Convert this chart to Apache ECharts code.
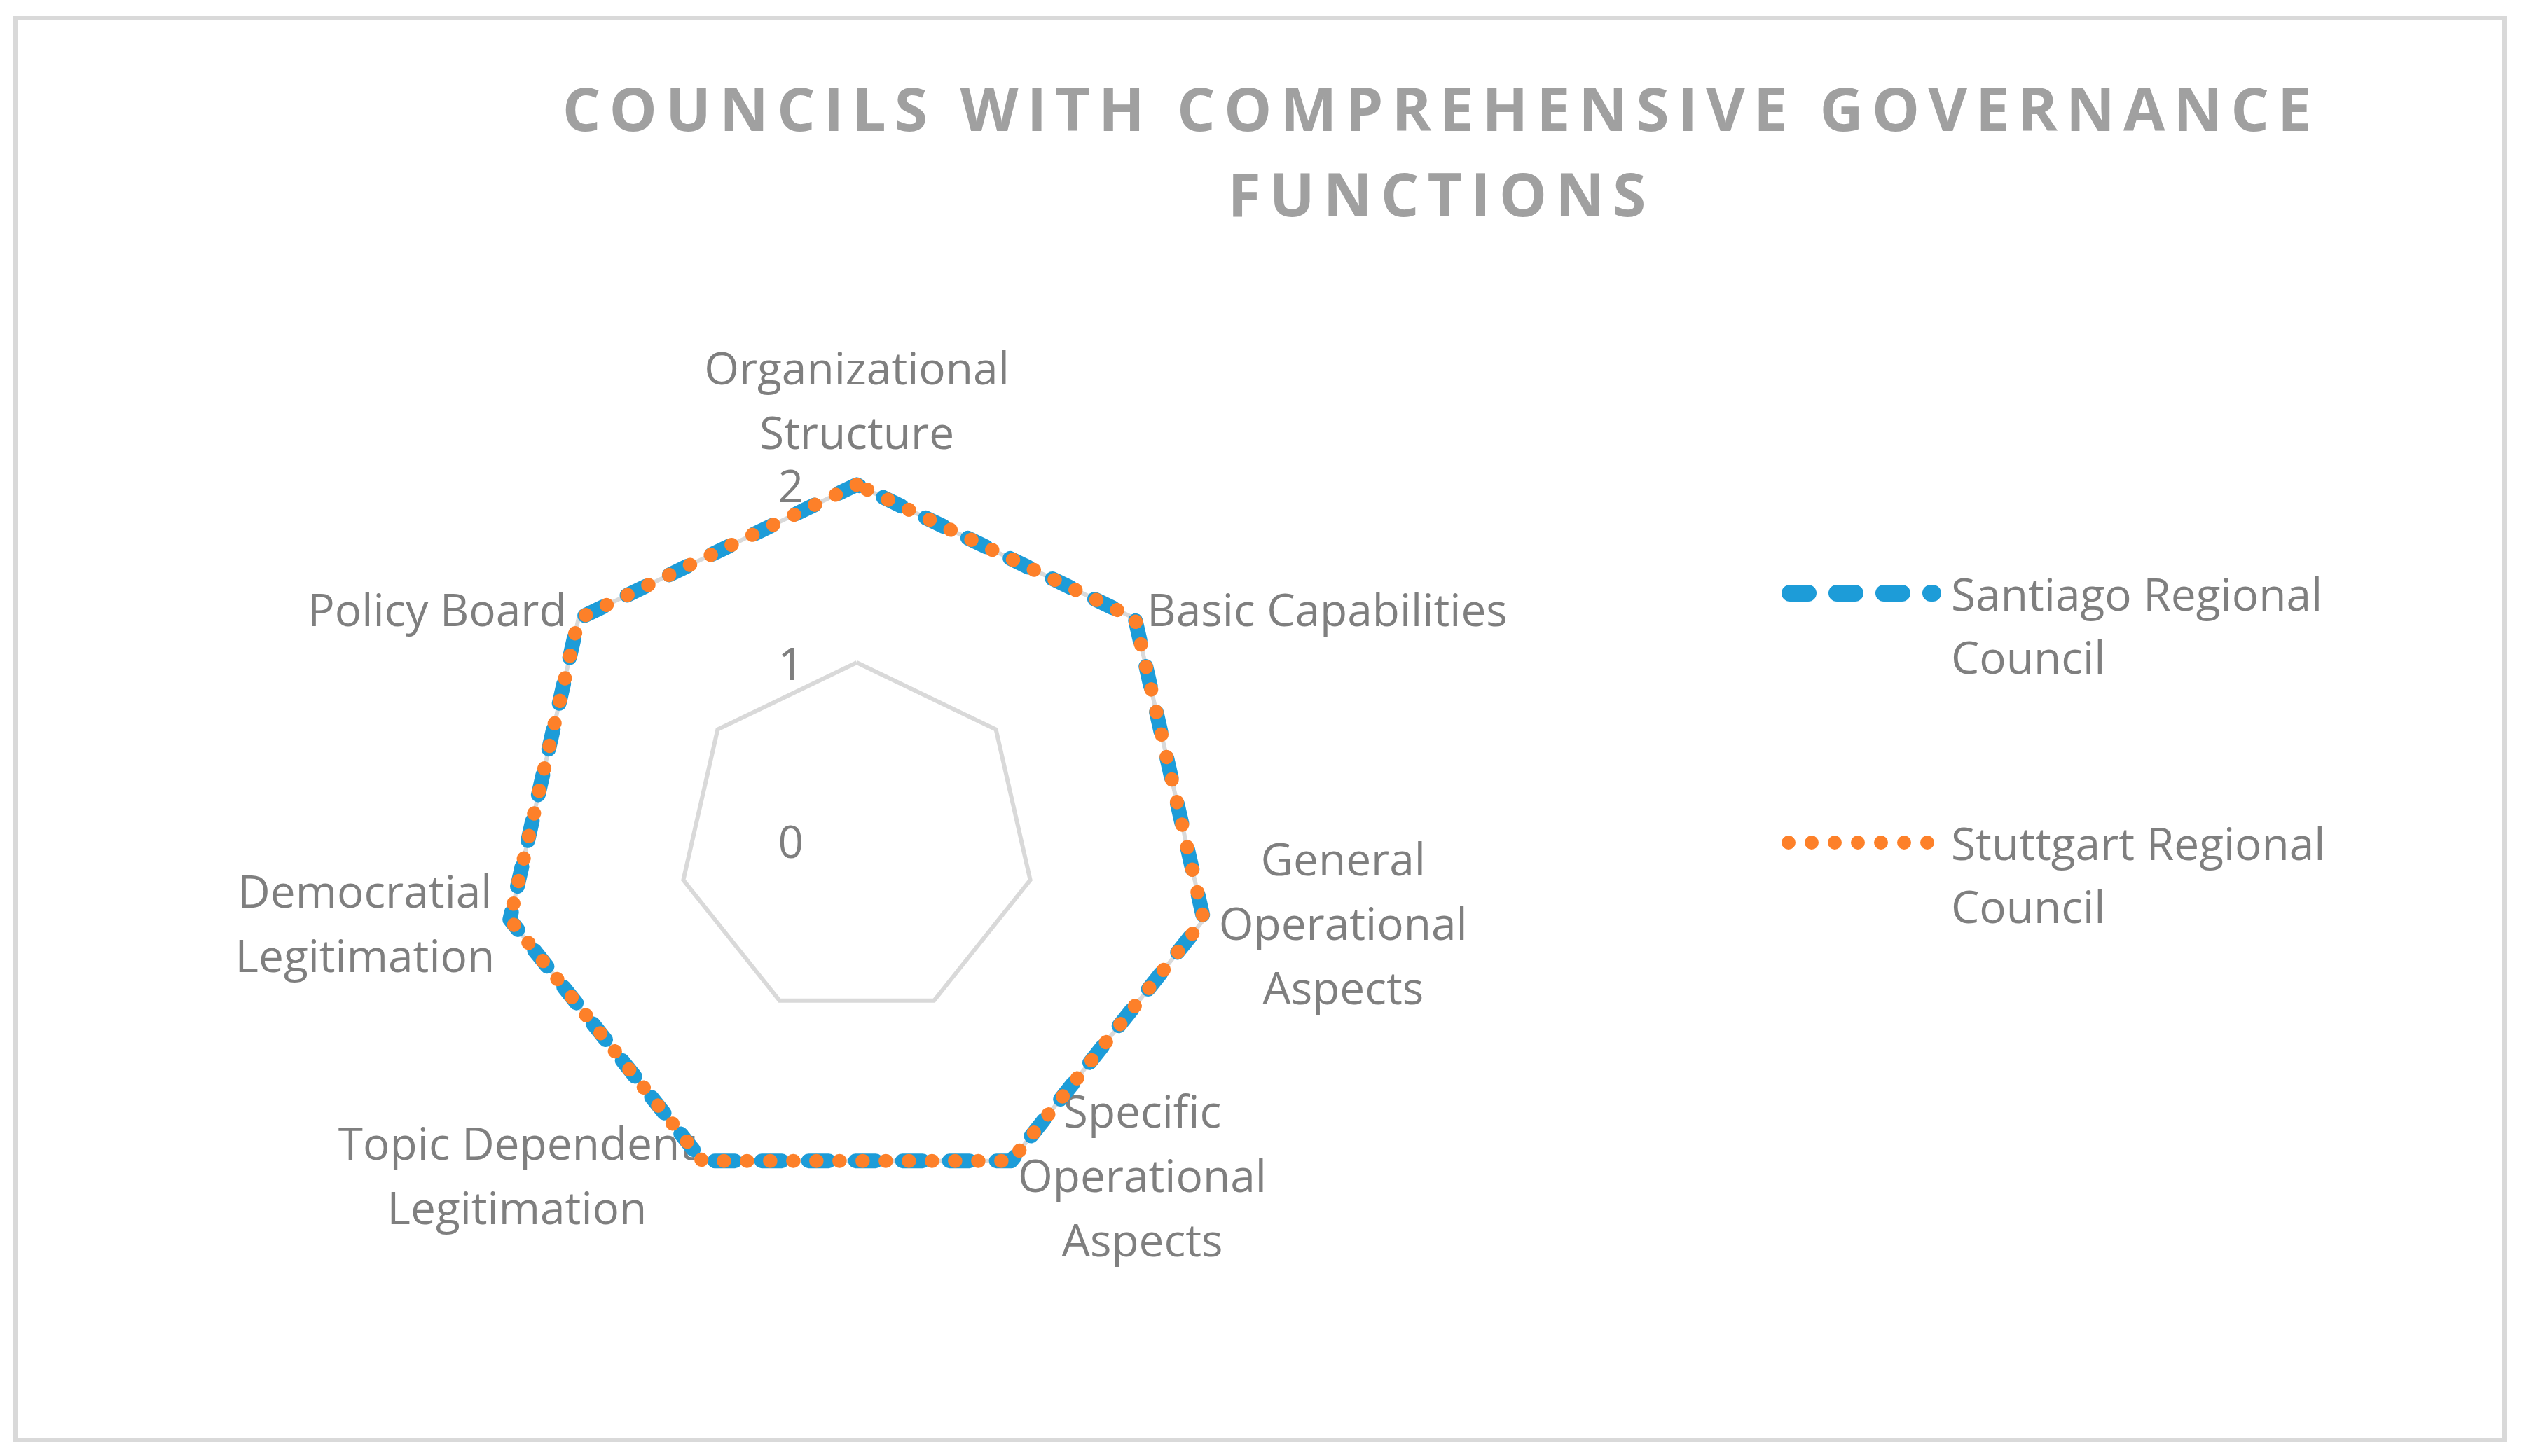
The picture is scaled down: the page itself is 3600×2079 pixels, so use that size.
<!DOCTYPE html>
<html>
<head>
<meta charset="UTF-8">
<title>Councils with comprehensive governance functions</title>
<script src="https://cdn.jsdelivr.net/npm/echarts@6/dist/echarts.min.js"></script>
<style>
	html, body { margin: 0; padding: 0; background: #ffffff; }
	#main { width: 3600px; height: 2079px; }
	/* the title is the only bold text; widen it like the spaced caps of the original */
	#main text[style*="bold"] { letter-spacing: 12px; }
</style>
</head>
<body>
<div id="main"></div>
<script type="text/javascript">
// categories in the order of the original sheet (clockwise from the top)
var categories = [
	'Organizational\nStructure',
	'Basic Capabilities',
	'General\nOperational\nAspects',
	'Specific\nOperational\nAspects',
	'Topic Dependent\nLegitimation',
	'Democratial\nLegitimation',
	'Policy Board'
];
var seriesNames = ['Santiago Regional Council', 'Stuttgart Regional Council'];
var santiagoValues = [2, 2, 2, 2, 2, 2, 2];
var stuttgartValues = [2, 2, 2, 2, 2, 2, 2];
var axisMin = 0;
var axisMax = 2;
var titleText = 'COUNCILS WITH COMPREHENSIVE GOVERNANCE\nFUNCTIONS';

var labelColor = '#7f7f7f';
var fontFamily = '"Open Sans", "Noto Sans", sans-serif';

// echarts lays out radar indicators counter-clockwise, so walk the list backwards after the first
var order = [0];
for (var k = categories.length - 1; k > 0; k--) order.push(k);

var indicators = order.map(function (idx, i) {
	var ind = { name: categories[idx], min: axisMin, max: axisMax };
	if (i === 0) {
		ind.axisLabel = { show: true };
		ind.nameGap = 30;
	}
	return ind;
});
function reorder(arr) {
	return order.map(function (idx) { return arr[idx]; });
}

// legend keys: dashes / dots, padded so the key sits on the first text line
function dashIcon() {
	var p = 'path://M0,0 ';
	var segs = [[0, 50], [67, 117], [134, 184], [201, 228]];
	segs.forEach(function (s) {
		var a = s[0] + 12, b = s[1] - 12;
		p += 'M' + a + ',0 L' + b + ',0 A12,12 0 0 1 ' + b + ',24 L' + a + ',24 A12,12 0 0 1 ' + a + ',0 Z ';
	});
	return p + 'M237,114';
}
function dotIcon() {
	var p = 'path://M0,0 ';
	for (var i = 0; i < 7; i++) {
		var cx = 10 + i * 33;
		p += 'M' + (cx - 10) + ',12 A10,10 0 1 0 ' + (cx + 10) + ',12 A10,10 0 1 0 ' + (cx - 10) + ',12 Z ';
	}
	return p + 'M237,114';
}

var myChart = echarts.init(document.getElementById('main'), null, { renderer: 'svg' });

var option = {
	animation: false,
	backgroundColor: '#ffffff',
	color: ['#1d9cd8', '#fd8029'],
	title: {
		text: titleText,
		left: 2057,
		top: 92,
		padding: 0,
		textAlign: 'center',
		textStyle: {
			color: '#a0a0a0',
			fontSize: 86,
			fontWeight: 'bold',
			fontFamily: fontFamily,
			lineHeight: 122
		}
	},
	graphic: [{
		type: 'rect',
		z: -10,
		shape: { x: 22, y: 26, width: 3553, height: 2030 },
		style: { fill: 'none', stroke: '#d9d9d9', lineWidth: 6 }
	}],
	legend: {
		orient: 'vertical',
		left: 2543,
		top: 802,
		padding: 0,
		itemGap: 176,
		itemWidth: 237,
		itemHeight: 114,
		itemStyle: { borderWidth: 0 },
		data: [
			{ name: seriesNames[0], icon: dashIcon() },
			{ name: seriesNames[1], icon: dotIcon() }
		],
		formatter: function (name) {
			return name.replace(' Council', '\nCouncil');
		},
		textStyle: {
			color: labelColor,
			fontSize: 64,
			fontFamily: fontFamily,
			lineHeight: 90
		}
	},
	radar: {
		center: [1223, 1200],
		radius: 508,
		startAngle: 90,
		shape: 'polygon',
		splitNumber: 2,
		nameGap: 22,
		indicator: indicators,
		axisName: {
			formatter: function (name) {
				return name.split('\n').map(function (s) { return '{c|' + s + '}'; }).join('\n');
			},
			rich: {
				c: {
					align: 'center',
					color: labelColor,
					fontSize: 64,
					fontFamily: fontFamily,
					lineHeight: 92
				}
			}
		},
		axisLine: { show: false },
		axisTick: { show: false },
		axisLabel: {
			show: false,
			color: labelColor,
			fontSize: 64,
			fontFamily: fontFamily,
			margin: 76
		},
		splitArea: { show: false },
		splitLine: { lineStyle: { color: '#d9d9d9', width: 6 } }
	},
	series: [{
		name: seriesNames[0],
		type: 'radar',
		symbol: 'none',
		silent: true,
		itemStyle: { color: '#1d9cd8' },
		lineStyle: { color: '#1d9cd8', width: 21, type: [29, 38], cap: 'round', join: 'round' },
		data: [{ name: seriesNames[0], value: reorder(santiagoValues) }]
	}, {
		name: seriesNames[1],
		type: 'radar',
		symbol: 'none',
		silent: true,
		itemStyle: { color: '#fd8029' },
		lineStyle: { color: '#fd8029', width: 20, type: [0.5, 32.5], cap: 'round', join: 'round' },
		data: [{ name: seriesNames[1], value: reorder(stuttgartValues) }]
	}]
};
myChart.setOption(option);
</script>
</body>
</html>
